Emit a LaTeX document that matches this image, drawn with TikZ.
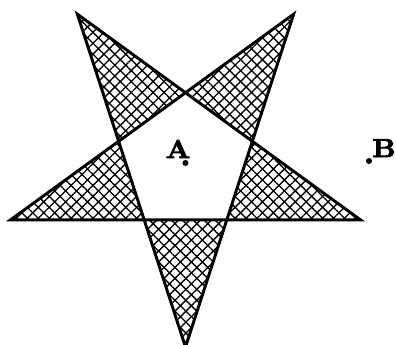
\documentclass[tikz,border=0pt]{standalone}
\usepackage{fontspec}
\newfontfamily\lblfont[FakeBold=3, FakeStretch=1.1]{lmroman10-bold.otf}
\usetikzlibrary{patterns.meta}
\begin{document}
\begin{tikzpicture}[x=0.75pt, y=0.75pt,
        hatchA/.style={pattern={Lines[angle=45, distance=5.8pt, line width=1pt]}},
        hatchB/.style={pattern={Lines[angle=-45, distance=5.8pt, line width=1pt]}},
        outline/.style={draw, line width=2.2pt, line join=miter},
        lbl/.style={font=\lblfont\fontsize{19.5}{19.5}\selectfont,
                    inner sep=0pt, anchor=base},
        ptdot/.style={circle, fill, inner sep=0pt, minimum size=4.5pt}]
      \useasboundingbox (-185.5,-181) rectangle (210.5,163);
      % Points of the star and corners of the inner pentagon
      \foreach \k in {0,...,4} {
        \coordinate (o\k) at (-90+72*\k:184);
        \coordinate (i\k) at (-126+72*\k:70.3);
      }
      % Hatched tips
      \foreach \k/\j in {0/1,1/2,2/3,3/4,4/0} {
        \fill[hatchA] (i\k) -- (o\k) -- (i\j) -- cycle;
        \fill[hatchB] (i\k) -- (o\k) -- (i\j) -- cycle;
      }
      % Star outline
      \draw[outline] (o0) -- (o2) -- (o4) -- (o1) -- (o3) -- cycle;
      % Points A and B
      \node[ptdot] (A) at (0,0) {};
      \node[ptdot] (B) at (183.5,2) {};
      \node[lbl] (labA) at (-7.5,5) {A};
      \node[lbl] (labB) at (198.5,6) {B};
    \end{tikzpicture}
\end{document}
